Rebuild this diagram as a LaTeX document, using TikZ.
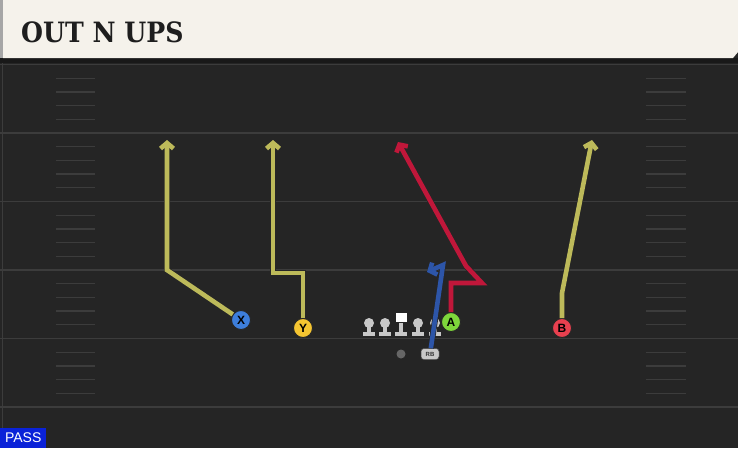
\documentclass[tikz,border=0pt]{standalone}
\usepackage{fontspec}
\setsansfont{Liberation Sans}
\newfontfamily\titlefont{DejaVu Serif Condensed}[BoldFont={DejaVu Serif Condensed Bold}]
\usetikzlibrary{arrows.meta,positioning}
\definecolor{fieldclr}{HTML}{252525}
\definecolor{lineclr}{HTML}{3C3C3C}
\definecolor{headerclr}{HTML}{F5F2EB}
\definecolor{titleclr}{HTML}{1E1E1E}
\definecolor{yroute}{HTML}{BDBA5A}
\definecolor{rroute}{HTML}{C0173A}
\definecolor{broute}{HTML}{2D55A8}
\definecolor{xblue}{HTML}{3D7EDB}
\definecolor{yyellow}{HTML}{F5C531}
\definecolor{agreen}{HTML}{7ED63B}
\definecolor{bred}{HTML}{E8404F}
\definecolor{lmgray}{HTML}{C8C8C8}
\definecolor{passblue}{HTML}{0A22D8}

\begin{document}
\begin{tikzpicture}[x=1pt, y=-1pt,
    yardline/.style={draw=lineclr, line width=1.6pt},
    hashmark/.style={draw=lineclr, line width=1.3pt},
    route/.style={line width=4.6pt, preaction={draw=black!85, line width=6pt},
                  -{Straight Barb[length=5.5pt,width=13pt]}},
    player/.style={circle, draw=black!85, line width=0.9pt, minimum size=19pt, inner sep=0pt,
                   font=\sffamily\bfseries\fontsize{12}{12}\selectfont},
    lineman/.pic={
        \fill[lmgray] (-6,9) rectangle (6,13);
        \fill[lmgray] (-2,2) rectangle (2,9);
        \fill[lmgray] (0,0) circle (5pt);
    },
    centerman/.pic={
        \fill[lmgray] (-6,9) rectangle (6,13);
        \fill[lmgray] (-2,0) rectangle (2,9);
        \fill[white] (-5.5,-10) rectangle (5.5,-1);
    }
]
    \useasboundingbox (0,0) rectangle (738,448);

    % Field
    \fill[fieldclr] (0,0) rectangle (738,448);
    \draw[lineclr, line width=1pt] (2,60) -- (2,448);
    \foreach \yy in {64.5,133,201.5,270,338.5,407}
        \draw[yardline] (0,\yy) -- (738,\yy);
    \foreach \yy in {64.5,133,201.5,270,338.5}
        \foreach \k in {1,2,3,4} {
            \draw[hashmark] (56,\yy+\k*13.7) -- (95,\yy+\k*13.7);
            \draw[hashmark] (646,\yy+\k*13.7) -- (686,\yy+\k*13.7);
        }

    % Header
    \fill[black!90] (0,58) rectangle (738,63);
    \fill[gray!70] (0,0) rectangle (3,58);
    \fill[headerclr] (3,0) -- (738,0) -- (738,52) -- (733,58) -- (3,58) -- cycle;
    \node[anchor=base west, inner sep=0pt, text=titleclr,
          font=\titlefont\bfseries\fontsize{28}{28}\selectfont] (title) at (21,42) {OUT N UPS};

    % Players
    \node[player, fill=xblue] (x) at (241,320) {X};
    \node[player, fill=yyellow] (y) at (303,328) {Y};
    \node[player, fill=agreen] (a) at (451,322) {A};
    \node[player, fill=bred] (b) at (562,328) {B};
    \node[circle, fill=gray!80!black, minimum size=9pt, inner sep=0pt] (qb) at (401,354) {};
    \node[rounded corners=3pt, fill=lmgray, draw=black!70, line width=0.5pt, minimum width=18pt, minimum height=11pt,
          inner sep=0pt, font=\sffamily\bfseries\fontsize{6}{6}\selectfont, text=black!80] (rb) at (430,354) {RB};

    % Line
    \pic (lt) at (369,323) {lineman};
    \pic (lg) at (385,323) {lineman};
    \pic (c) at (401,323) {centerman};
    \pic (rg) at (418,323) {lineman};
    \pic (rt) at (435,323) {lineman};

    % Routes
    \draw[route, yroute] (x) -- (167,270) -- (167,140);
    \draw[route, yroute] (y) -- (303,273) -- (273,273) -- (273,140);
    \draw[route, rroute] (a) -- (451,283) -- (482,283) -- (466,266) -- (398,142);
    \draw[route, yroute] (b) -- (562,293) -- (592,140);
    \draw[route, broute] (rb) -- (443,265) -- (427,272);

    % Play type
    \node[anchor=south west, fill=passblue, text=white, minimum width=46pt, minimum height=20pt, inner sep=0pt,
          font=\sffamily\fontsize{14}{14}\selectfont] (pass) at (0,448) {PASS};
\end{tikzpicture}
\end{document}
